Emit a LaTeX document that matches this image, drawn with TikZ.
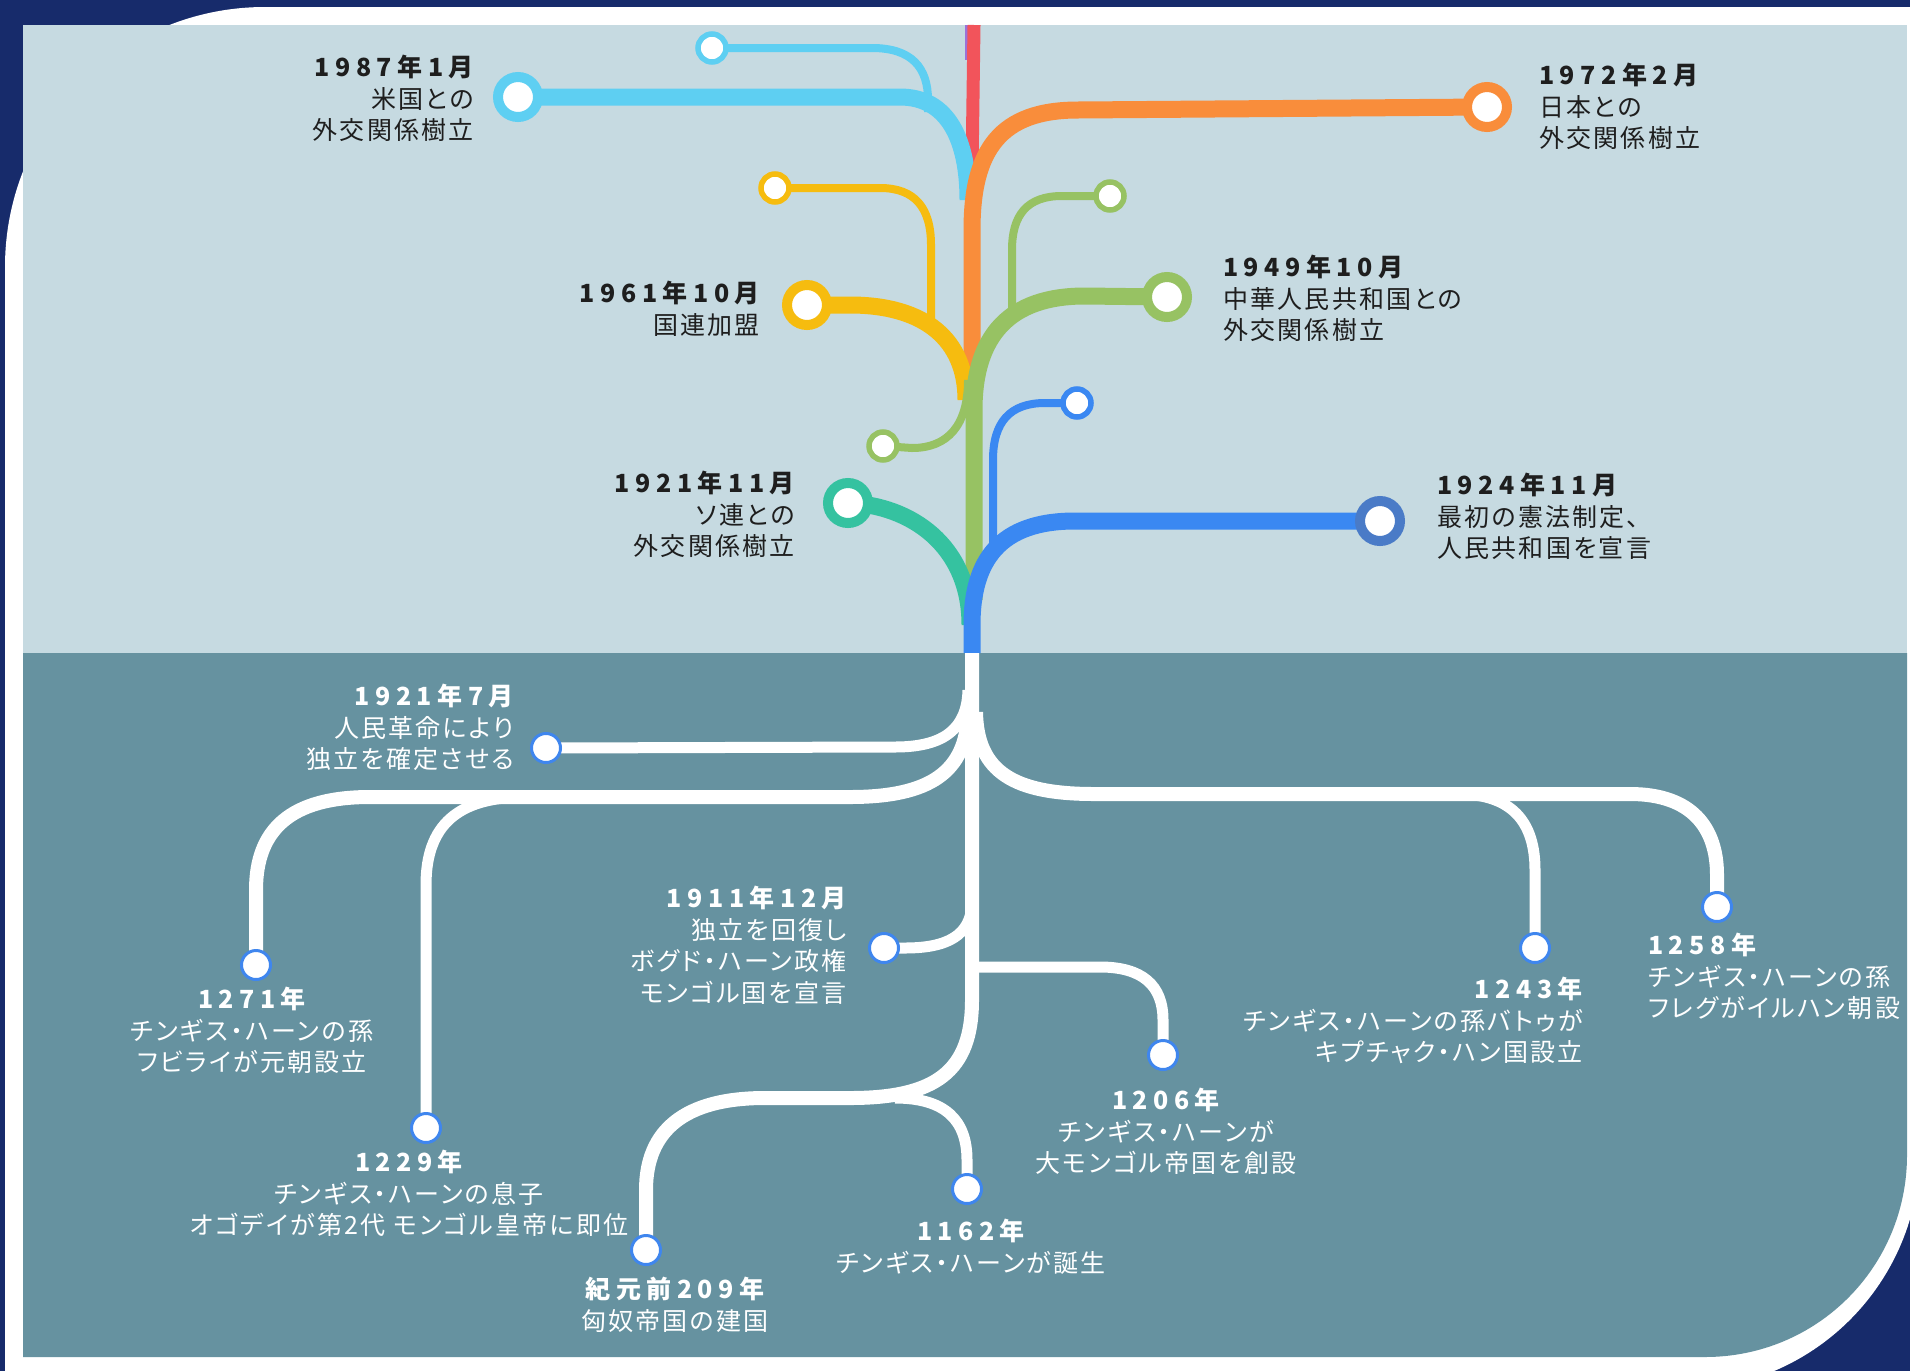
\documentclass[tikz,border=0pt]{standalone}
\usepackage{fontspec}
\newfontfamily\jp[LetterSpace=9,RawFeature=+palt]{Noto Sans CJK JP}
\newfontfamily\jpd[LetterSpace=22]{Noto Sans CJK JP}
\newcommand\dt[1]{{\jpd\bfseries #1}}
\definecolor{navy}{HTML}{172B6B}
\definecolor{panellight}{HTML}{C6DAE1}
\definecolor{panelteal}{HTML}{6692A0}
\definecolor{lblue}{HTML}{5ECFF2}
\definecolor{redA}{HTML}{F2545B}
\definecolor{purpA}{HTML}{9B72D8}
\definecolor{orangeA}{HTML}{F98D3B}
\definecolor{yellowA}{HTML}{F6BC0F}
\definecolor{greenA}{HTML}{97C263}
\definecolor{tealA}{HTML}{35C2A0}
\definecolor{blueA}{HTML}{3A88F2}
\definecolor{ringB}{HTML}{4A7BC7}
\definecolor{nodeblue}{HTML}{3F86EE}
\definecolor{txtdark}{HTML}{1E1E1E}
\pgfdeclarelayer{back}
\pgfdeclarelayer{lines}
\pgfsetlayers{back,lines,main}
\tikzset{
  bignode/.style={circle, fill=white, line width=10pt, minimum size=40pt, inner sep=0pt, outer sep=0pt},
  smallnode/.style={circle, fill=white, line width=5.5pt, minimum size=28pt, inner sep=0pt, outer sep=0pt},
  wnode/.style={circle, fill=white, draw=nodeblue, line width=3pt, minimum size=29pt, inner sep=0pt, outer sep=0pt},
  brthick/.style={line width=17pt},
  brthin/.style={line width=8pt},
  wmain/.style={draw=white, line width=14pt},
  wbranch/.style={draw=white, line width=11pt},
  tdark/.style={font=\jp\fontsize{25}{31.5}\selectfont, text=txtdark, inner sep=0pt},
  twhite/.style={font=\jp\fontsize{25}{31.5}\selectfont, text=white, inner sep=0pt}
}
\begin{document}
\begin{tikzpicture}[x=1pt,y=-1pt]
\useasboundingbox (0,0) rectangle (1910,1371);
% ---------- nodes ----------
\node[bignode, draw=lblue] (n1987) at (518,97) {};
\node[smallnode, draw=lblue] (nsLB) at (712,48) {};
\node[bignode, draw=orangeA] (n1972) at (1487,107) {};
\node[smallnode, draw=yellowA] (nsY) at (775,188) {};
\node[bignode, draw=yellowA] (n1961) at (807,305) {};
\node[smallnode, draw=greenA] (nsG1) at (1110,196) {};
\node[bignode, draw=greenA] (n1949) at (1167,297) {};
\node[smallnode, draw=greenA] (nsG2) at (883,446) {};
\node[bignode, draw=tealA] (n1921s) at (848,503) {};
\node[smallnode, draw=blueA] (nsB) at (1077,403) {};
\node[bignode, draw=ringB] (n1924) at (1380,521) {};
\node[wnode] (n19217) at (546,748) {};
\node[wnode] (n1271) at (256,965) {};
\node[wnode] (n1229) at (426,1128) {};
\node[wnode] (n191112) at (884,948) {};
\node[wnode] (n1206) at (1163,1055) {};
\node[wnode] (n1162) at (967,1189) {};
\node[wnode] (n209) at (646,1250) {};
\node[wnode] (n1243) at (1535,948) {};
\node[wnode] (n1258) at (1717,907) {};
% ---------- junction coordinates ----------
\coordinate (ttop) at (972,25);
\coordinate (jRed) at (972,170);
\coordinate (jLB) at (968,200);
\coordinate (jLBt) at (928,112);
\coordinate (jOr) at (972,400);
\coordinate (jYe) at (966,400);
\coordinate (jYt) at (931,320);
\coordinate (jGr) at (974,600);
\coordinate (jGt) at (1012,315);
\coordinate (jGs) at (968,380);
\coordinate (jTe) at (970,625);
\coordinate (jBt) at (993,560);
\coordinate (tsplit) at (972,653);
\coordinate (bJ1) at (968,690);
\coordinate (bJL) at (968,712);
\coordinate (bJR) at (976,712);
\coordinate (bJ1229) at (525,797);
\coordinate (bJ1243) at (1458,794);
\coordinate (bJ1911) at (972,905);
\coordinate (bJ1206) at (972,967);
\coordinate (bJ1162) at (895,1098);
% ---------- background ----------
\begin{pgfonlayer}{back}
\fill[navy] (0,0) rectangle (1910,1371);
\fill[white] (5,1400) -- (5,267) .. controls (5,123) and (121,7) .. (265,7) -- (1920,7) -- (1920,1150) .. controls (1920,1283) and (1813,1390) .. (1680,1390) -- cycle;
\fill[panellight] (23,25) rectangle (1907,653);
\fill[panelteal] (23,653) -- (1907,653) -- (1907,1155) .. controls (1907,1267) and (1817,1357) .. (1705,1357) -- (23,1357) -- cycle;
\end{pgfonlayer}
% ---------- connectors ----------
\begin{pgfonlayer}{lines}
\draw[purpA, line width=14pt] (ttop) -- (972,60);
\draw[redA, line width=13pt] (974,25) -- (jRed);
\draw[lblue, brthin] (nsLB.center) -- (872,48) .. controls (912,48) and (928,68) .. (928,100) -- (jLBt);
\draw[lblue, brthick] (n1987.center) -- (900,97) .. controls (948,97) and (968,140) .. (jLB);
\draw[orangeA, brthick] (n1972.center) -- (1078,110) .. controls (1000,110) and (972,150) .. (972,230) -- (jOr);
\draw[yellowA, brthin] (nsY.center) -- (880,188) .. controls (915,188) and (931,208) .. (931,245) -- (jYt);
\draw[yellowA, brthick] (n1961.center) -- (850,305) .. controls (925,305) and (966,340) .. (jYe);
\draw[greenA, brthin] (nsG1.center) -- (1062,196) .. controls (1027,196) and (1012,215) .. (1012,250) -- (jGt);
\draw[greenA, brthin] (nsG2.center) -- (912,448) .. controls (948,448) and (968,425) .. (jGs);
\draw[greenA, brthick] (n1949.center) -- (1085,296) .. controls (1010,296) and (974,335) .. (974,410) -- (jGr);
\draw[tealA, brthick] (n1921s.center) .. controls (910,505) and (970,545) .. (jTe);
\draw[blueA, brthin] (nsB.center) -- (1045,403) .. controls (1010,403) and (993,422) .. (993,460) -- (jBt);
\draw[blueA, brthick] (n1924.center) -- (1075,521) .. controls (1000,521) and (972,560) .. (972,625) -- (tsplit);
% bottom
\draw[wmain] (tsplit) -- (972,1000) .. controls (972,1072) and (935,1098) .. (850,1098) -- (765,1098) .. controls (685,1098) and (646,1130) .. (646,1190) -- (n209.center);
\draw[wbranch] (n19217.center) -- (895,747) .. controls (945,747) and (967,728) .. (bJ1);
\draw[wmain] (bJL) .. controls (967,772) and (930,797) .. (850,797) -- (370,797) .. controls (290,797) and (256,830) .. (256,890) -- (n1271.center);
\draw[wbranch] (bJ1229) .. controls (458,797) and (426,825) .. (426,885) -- (n1229.center);
\draw[wmain] (bJR) .. controls (977,772) and (1014,794) .. (1094,794) -- (1630,794) .. controls (1692,794) and (1717,828) .. (1717,875) -- (n1258.center);
\draw[wbranch] (bJ1243) .. controls (1512,794) and (1535,822) .. (1535,870) -- (n1243.center);
\draw[wbranch] (n191112.center) -- (905,948) .. controls (948,948) and (970,935) .. (bJ1911);
\draw[wbranch] (bJ1206) -- (1100,967) .. controls (1142,967) and (1163,985) .. (1163,1020) -- (n1206.center);
\draw[wbranch] (bJ1162) .. controls (945,1098) and (967,1120) .. (967,1160) -- (n1162.center);
\end{pgfonlayer}
% ---------- texts ----------
\node[tdark, align=right, anchor=north east] (t1987) at (474,55) {\dt{1987年1月}\\米国との\\外交関係樹立};
\node[tdark, align=left, anchor=north west] (t1972) at (1539,63) {\dt{1972年2月}\\日本との\\外交関係樹立};
\node[tdark, align=left, anchor=north west] (t1949) at (1223,255) {\dt{1949年10月}\\中華人民共和国との\\外交関係樹立};
\node[tdark, align=right, anchor=north east] (t1961) at (760,281) {\dt{1961年10月}\\国連加盟};
\node[tdark, align=right, anchor=north east] (t1921s) at (795,471) {\dt{1921年11月}\\ソ連との\\外交関係樹立};
\node[tdark, align=left, anchor=north west] (t1924) at (1437,473) {\dt{1924年11月}\\最初の憲法制定、\\人民共和国を宣言};
\node[twhite, align=right, anchor=north east] (t19217) at (514,684) {\dt{1921年7月}\\人民革命により\\独立を確定させる};
\node[twhite, align=center, anchor=north] (t1271) at (252,987) {\dt{1271年}\\チンギス・ハーンの孫\\フビライが元朝設立};
\node[twhite, align=center, anchor=north] (t1229) at (409,1150) {\dt{1229年}\\チンギス・ハーンの息子\\オゴデイが第2代 モンゴル皇帝に即位};
\node[twhite, align=right, anchor=north east] (t191112) at (847,886) {\dt{1911年12月}\\独立を回復し\\ボグド・ハーン政権\\モンゴル国を宣言};
\node[twhite, align=center, anchor=north] (t1206) at (1166,1088) {\dt{1206年}\\チンギス・ハーンが\\大モンゴル帝国を創設};
\node[twhite, align=center, anchor=north] (t1162) at (971,1219) {\dt{1162年}\\チンギス・ハーンが誕生};
\node[twhite, align=center, anchor=north] (t209) at (675,1277) {\dt{紀元前209年}\\匈奴帝国の建国};
\node[twhite, align=right, anchor=north east] (t1243) at (1583,977) {\dt{1243年}\\チンギス・ハーンの孫バトゥが\\キプチャク・ハン国設立};
\node[twhite, align=left, anchor=north west] (t1258) at (1648,933) {\dt{1258年}\\チンギス・ハーンの孫\\フレグがイルハン朝設};
\end{tikzpicture}
\end{document}
